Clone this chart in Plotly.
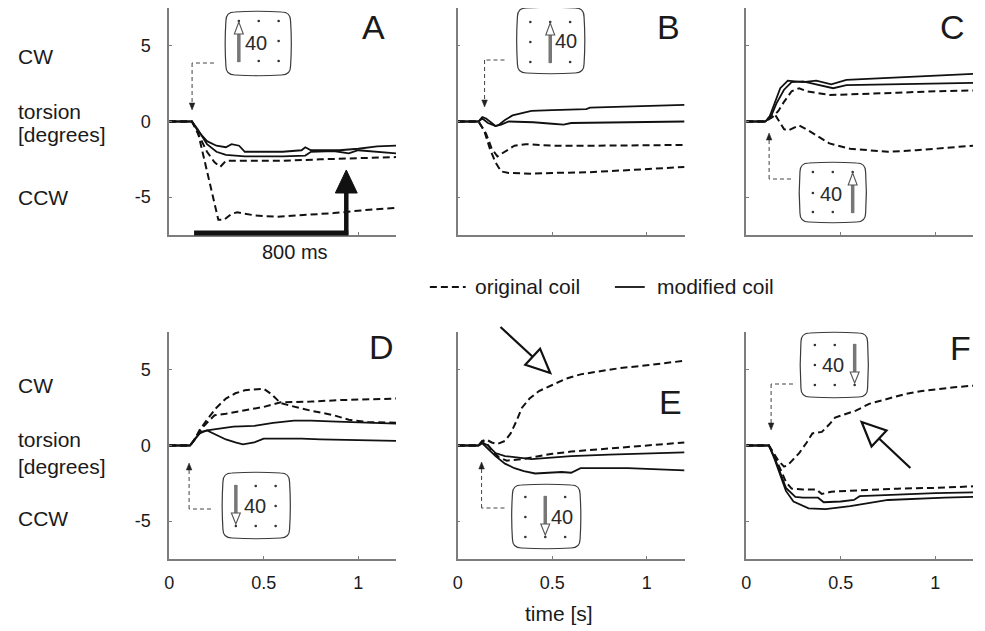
import plotly.graph_objects as go

# page offset caused by the browser's default body margin
OFF = 8
W, H = 985 - OFF, 631 - OFF

# ---------------- data: time [s] vs torsion [degrees] ----------------
A_orig1_t = [0, 0.12, 0.15, 0.18, 0.21, 0.24, 0.26, 0.29, 0.33, 0.36, 0.45, 0.57, 0.70, 0.87, 1.04, 1.2]
A_orig1_v = [0, 0, -0.6, -2.2, -3.9, -5.6, -6.5, -6.5, -6.1, -6.0, -6.2, -6.3, -6.2, -6.05, -5.85, -5.7]
A_orig2_t = [0, 0.12, 0.16, 0.20, 0.24, 0.27, 0.30, 0.40, 0.60, 0.80, 1.0, 1.2]
A_orig2_v = [0, 0, -1.0, -2.0, -2.7, -3.0, -2.6, -2.6, -2.6, -2.5, -2.4, -2.35]
A_mod1_t = [0, 0.12, 0.15, 0.20, 0.25, 0.30, 0.33, 0.37, 0.40, 0.60, 0.70, 0.72, 0.75, 0.90, 1.0, 1.1, 1.2]
A_mod1_v = [0, 0, -0.6, -1.3, -1.6, -1.7, -1.5, -1.6, -2.0, -2.0, -1.9, -1.7, -1.9, -1.9, -1.8, -1.65, -1.6]
A_mod2_t = [0, 0.12, 0.15, 0.20, 0.25, 0.30, 0.40, 0.60, 0.72, 0.75, 0.87, 0.95, 1.0, 1.1, 1.2]
A_mod2_v = [0, 0, -0.5, -1.5, -2.0, -2.2, -2.3, -2.3, -2.25, -2.0, -1.95, -2.1, -1.9, -2.0, -2.1]

B_orig1_t = [0, 0.11, 0.15, 0.18, 0.21, 0.25, 0.30, 0.36, 0.50, 0.70, 0.90, 1.2]
B_orig1_v = [0, 0, -0.8, -1.8, -2.3, -2.0, -1.6, -1.5, -1.6, -1.6, -1.6, -1.55]
B_orig2_t = [0, 0.11, 0.14, 0.17, 0.20, 0.23, 0.27, 0.39, 0.50, 0.70, 0.92, 1.05, 1.2]
B_orig2_v = [0, 0, -0.6, -1.8, -2.7, -3.3, -3.4, -3.45, -3.4, -3.35, -3.2, -3.1, -3.0]
B_mod1_t = [0, 0.11, 0.13, 0.15, 0.18, 0.20, 0.22, 0.25, 0.29, 0.39, 0.50, 0.60, 0.68, 0.70, 0.90, 1.08, 1.2]
B_mod1_v = [0, 0, 0.3, 0.2, -0.1, -0.3, -0.2, 0.1, 0.4, 0.7, 0.75, 0.8, 0.82, 0.92, 1.0, 1.1, 1.1]
B_mod2_t = [0, 0.11, 0.13, 0.16, 0.20, 0.23, 0.27, 0.40, 0.50, 0.56, 0.60, 0.80, 1.0, 1.2]
B_mod2_v = [0, 0, 0.2, -0.1, -0.3, -0.2, 0.0, -0.05, -0.15, -0.2, -0.1, -0.05, 0.0, 0.0]

C_orig1_t = [0, 0.10, 0.14, 0.17, 0.20, 0.24, 0.28, 0.32, 0.44, 0.60, 0.80, 1.0, 1.2]
C_orig1_v = [0, 0, 0.3, 0.7, 1.3, 2.0, 2.2, 2.0, 1.75, 1.8, 1.9, 2.0, 2.05]
C_orig2_t = [0, 0.10, 0.13, 0.15, 0.17, 0.20, 0.22, 0.28, 0.33, 0.44, 0.55, 0.75, 0.90, 1.05, 1.2]
C_orig2_v = [0, 0, 0.4, 0.5, 0.1, -0.5, -0.6, -0.26, -0.6, -1.45, -1.8, -2.0, -1.9, -1.75, -1.6]
C_mod1_t = [0, 0.10, 0.12, 0.15, 0.18, 0.22, 0.30, 0.37, 0.45, 0.53, 0.70, 0.90, 1.2]
C_mod1_v = [0, 0, 0.2, 1.2, 2.2, 2.7, 2.6, 2.7, 2.45, 2.75, 2.85, 2.95, 3.15]
C_mod2_t = [0, 0.10, 0.13, 0.16, 0.20, 0.24, 0.30, 0.36, 0.46, 0.53, 0.70, 0.90, 1.2]
C_mod2_v = [0, 0, 0.3, 1.2, 2.1, 2.6, 2.65, 2.5, 2.2, 2.4, 2.45, 2.5, 2.55]

D_orig1_t = [0, 0.11, 0.13, 0.16, 0.20, 0.25, 0.30, 0.35, 0.40, 0.45, 0.50, 0.54, 0.59, 0.65, 0.75, 0.87, 0.95, 1.05, 1.2]
D_orig1_v = [0, 0, 0.3, 1.0, 1.7, 2.5, 3.1, 3.45, 3.65, 3.7, 3.75, 3.4, 2.8, 2.6, 2.3, 2.0, 1.7, 1.55, 1.5]
D_orig2_t = [0, 0.11, 0.14, 0.17, 0.20, 0.24, 0.30, 0.40, 0.50, 0.59, 0.75, 0.90, 1.05, 1.2]
D_orig2_v = [0, 0, 0.5, 1.1, 1.5, 2.0, 2.1, 2.3, 2.55, 2.85, 2.9, 3.0, 3.05, 3.1]
D_mod1_t = [0, 0.11, 0.13, 0.16, 0.20, 0.25, 0.34, 0.45, 0.55, 0.66, 0.75, 0.85, 1.0, 1.2]
D_mod1_v = [0, 0, 0.3, 0.8, 1.0, 1.1, 1.25, 1.3, 1.5, 1.65, 1.65, 1.6, 1.55, 1.45]
D_mod2_t = [0, 0.11, 0.14, 0.17, 0.20, 0.25, 0.30, 0.35, 0.39, 0.45, 0.50, 0.60, 0.70, 0.80, 1.0, 1.2]
D_mod2_v = [0, 0, 0.5, 0.9, 1.0, 0.7, 0.4, 0.2, 0.07, 0.2, 0.45, 0.45, 0.45, 0.4, 0.35, 0.3]

E_orig1_t = [0, 0.11, 0.13, 0.15, 0.18, 0.21, 0.25, 0.28, 0.31, 0.34, 0.38, 0.43, 0.50, 0.57, 0.65, 0.75, 0.85, 1.0, 1.1, 1.2]
E_orig1_v = [0, 0, 0.3, 0.4, 0.2, 0.1, 0.3, 0.8, 1.6, 2.5, 3.1, 3.6, 4.0, 4.4, 4.7, 4.9, 5.1, 5.3, 5.45, 5.6]
E_orig2_t = [0, 0.11, 0.13, 0.15, 0.18, 0.22, 0.26, 0.34, 0.50, 0.60, 0.70, 0.80, 0.90, 1.0, 1.1, 1.2]
E_orig2_v = [0, 0, 0.3, 0.2, -0.3, -0.8, -1.0, -0.9, -0.55, -0.4, -0.3, -0.2, -0.1, 0.0, 0.1, 0.2]
E_mod1_t = [0, 0.11, 0.13, 0.16, 0.20, 0.25, 0.39, 0.50, 0.60, 0.80, 1.0, 1.2]
E_mod1_v = [0, 0, 0.2, 0.0, -0.5, -0.7, -0.9, -0.8, -0.7, -0.6, -0.5, -0.45]
E_mod2_t = [0, 0.11, 0.13, 0.16, 0.20, 0.25, 0.30, 0.35, 0.41, 0.55, 0.60, 0.65, 0.80, 0.90, 1.0, 1.1, 1.2]
E_mod2_v = [0, 0, 0.15, -0.2, -0.7, -1.2, -1.5, -1.7, -1.85, -1.75, -1.8, -1.5, -1.5, -1.5, -1.55, -1.6, -1.65]

F_orig1_t = [0, 0.12, 0.14, 0.17, 0.20, 0.22, 0.25, 0.28, 0.32, 0.35, 0.40, 0.44, 0.47, 0.58, 0.65, 0.75, 0.84, 0.93, 1.02, 1.1, 1.2]
F_orig1_v = [0, 0, -0.4, -1.0, -1.4, -1.3, -0.9, -0.5, 0.2, 0.8, 0.9, 1.4, 1.85, 2.3, 2.75, 3.1, 3.4, 3.6, 3.75, 3.85, 3.95]
F_orig2_t = [0, 0.12, 0.15, 0.18, 0.21, 0.24, 0.30, 0.37, 0.40, 0.45, 0.60, 0.80, 1.0, 1.2]
F_orig2_v = [0, 0, -0.7, -1.6, -2.4, -2.85, -2.9, -2.9, -3.2, -3.05, -2.95, -2.85, -2.8, -2.7]
F_mod1_t = [0, 0.12, 0.15, 0.18, 0.21, 0.26, 0.30, 0.38, 0.41, 0.50, 0.57, 0.60, 0.80, 1.0, 1.2]
F_mod1_v = [0, 0, -0.8, -1.8, -2.8, -3.4, -3.45, -3.45, -3.75, -3.7, -3.6, -3.35, -3.25, -3.15, -3.1]
F_mod2_t = [0, 0.12, 0.15, 0.18, 0.21, 0.25, 0.33, 0.42, 0.55, 0.75, 0.90, 1.05, 1.2]
F_mod2_v = [0, 0, -0.9, -2.0, -3.0, -3.7, -4.15, -4.2, -4.0, -3.6, -3.5, -3.45, -3.4]

panel_labels = ["A", "B", "C", "D", "E", "F"]
x_tickvals = [0, 0.5, 1]
x_ticktext = ["0", "0.5", "1"]
y_tickvals = [-5, 0, 5]
y_ticktext = ["-5", "0", "5"]
series_names = ["original coil", "modified coil"]

panel_series = {
    "A": [(A_orig1_t, A_orig1_v, 0), (A_orig2_t, A_orig2_v, 0), (A_mod1_t, A_mod1_v, 1), (A_mod2_t, A_mod2_v, 1)],
    "B": [(B_orig1_t, B_orig1_v, 0), (B_orig2_t, B_orig2_v, 0), (B_mod1_t, B_mod1_v, 1), (B_mod2_t, B_mod2_v, 1)],
    "C": [(C_orig1_t, C_orig1_v, 0), (C_orig2_t, C_orig2_v, 0), (C_mod1_t, C_mod1_v, 1), (C_mod2_t, C_mod2_v, 1)],
    "D": [(D_orig1_t, D_orig1_v, 0), (D_orig2_t, D_orig2_v, 0), (D_mod1_t, D_mod1_v, 1), (D_mod2_t, D_mod2_v, 1)],
    "E": [(E_orig1_t, E_orig1_v, 0), (E_orig2_t, E_orig2_v, 0), (E_mod1_t, E_mod1_v, 1), (E_mod2_t, E_mod2_v, 1)],
    "F": [(F_orig1_t, F_orig1_v, 0), (F_orig2_t, F_orig2_v, 0), (F_mod1_t, F_mod1_v, 1), (F_mod2_t, F_mod2_v, 1)],
}

# ---------------- layout geometry (screen pixels) ----------------
COL_PX = [(165, 393), (455, 683), (745, 973)]
ROW_PX = [(8, 235), (332, 559)]
FONT = "Liberation Sans, Arial, sans-serif"
AXIS_COLOR = "#7d7d7d"
INK = "#111111"


def px(x):
    return (x - OFF) / W


def py(y):
    return 1 - (y - OFF) / H


fig = go.Figure()
layout = dict(
    width=W, height=H, autosize=False,
    margin=dict(l=0, r=0, t=0, b=0),
    paper_bgcolor="white", plot_bgcolor="white",
    showlegend=False,
    font=dict(family=FONT, color="#1a1a1a"),
)

for i, lab in enumerate(panel_labels):
    n = i + 1
    r, c = divmod(i, 3)
    xs = "x" if n == 1 else f"x{n}"
    ys = "y" if n == 1 else f"y{n}"
    for t, v, kind in panel_series[lab]:
        fig.add_trace(go.Scatter(
            x=t, y=v, mode="lines", name=series_names[kind],
            xaxis=xs, yaxis=ys, showlegend=False,
            line=dict(color=INK, width=2.0 if kind == 0 else 1.8,
                      dash="7px,4px" if kind == 0 else "solid"),
            hoverinfo="skip",
        ))
    x0, x1 = COL_PX[c]
    y0, y1 = ROW_PX[r]
    layout["xaxis" if n == 1 else f"xaxis{n}"] = dict(
        domain=[px(x0), min(px(x1), 1)], range=[0, 1.2], anchor=ys,
        showline=True, linecolor=AXIS_COLOR, linewidth=1.5,
        showgrid=False, zeroline=False, ticks="inside", ticklen=3,
        tickcolor=AXIS_COLOR, tickwidth=1,
        tickvals=x_tickvals, ticktext=x_ticktext,
        showticklabels=(r == 1), tickfont=dict(size=18, family=FONT, color="#1a1a1a"),
        ticklabelstandoff=7,
    )
    layout["yaxis" if n == 1 else f"yaxis{n}"] = dict(
        domain=[py(y1), min(py(y0), 1)], range=[-7.5, 7.5], anchor=xs,
        showline=True, linecolor=AXIS_COLOR, linewidth=1.5,
        showgrid=False, zeroline=False, ticks="inside", ticklen=3,
        tickcolor=AXIS_COLOR, tickwidth=1,
        tickvals=y_tickvals, ticktext=y_ticktext,
        showticklabels=(c == 0), tickfont=dict(size=18, family=FONT, color="#1a1a1a"),
        ticklabelstandoff=13,
    )

shapes = []
annotations = []


def seg(x0, y0, x1, y1, color, width, dash=None):
    ln = dict(color=color, width=width)
    if dash:
        ln["dash"] = dash
    shapes.append(dict(type="line", xref="paper", yref="paper",
                       x0=px(x0), y0=py(y0), x1=px(x1), y1=py(y1), line=ln))


def poly(pts, fill, color, width):
    path = "M " + " L ".join(f"{px(x):.5f},{py(y):.5f}" for x, y in pts) + " Z"
    shapes.append(dict(type="path", xref="paper", yref="paper", path=path,
                       fillcolor=fill, line=dict(color=color, width=width)))


def dot(x, y, rr=1.3):
    shapes.append(dict(type="circle", xref="paper", yref="paper",
                       x0=px(x - rr), x1=px(x + rr), y0=py(y + rr), y1=py(y - rr),
                       fillcolor="#333", line=dict(width=0)))


def rrect(x0, y0, x1, y1, r):
    def P(x, y):
        return f"{px(x):.5f},{py(y):.5f}"
    mx, my = (x0 + x1) / 2, (y0 + y1) / 2
    b = 1.5
    path = (f"M {P(x0 + r, y0)} Q {P(mx, y0 - b)} {P(x1 - r, y0)} Q {P(x1, y0)} {P(x1, y0 + r)} "
            f"Q {P(x1 + b, my)} {P(x1, y1 - r)} Q {P(x1, y1)} {P(x1 - r, y1)} "
            f"Q {P(mx, y1 + b)} {P(x0 + r, y1)} Q {P(x0, y1)} {P(x0, y1 - r)} "
            f"Q {P(x0 - b, my)} {P(x0, y0 + r)} Q {P(x0, y0)} {P(x0 + r, y0)} Z")
    shapes.append(dict(type="path", xref="paper", yref="paper", path=path,
                       fillcolor="white", line=dict(color="#3a3a3a", width=1.2)))


def text(x, y, s, size, xanchor="center", color="#1a1a1a"):
    annotations.append(dict(xref="paper", yref="paper", x=px(x), y=py(y), text=s,
                            showarrow=False, xanchor=xanchor, yanchor="middle",
                            font=dict(size=size, family=FONT, color=color)))


# inset stimulus pictograms: box, dot grid, arrow column, direction, text x/y, connector
INSETS = [
    dict(box=(222, 12, 287, 75), cols=(235, 255, 275), rows=(21, 41, 61), acol=0, up=True,
         tx=252, ty=43, skip=(1, 1), corner=188, hy=63, hx=210, tip=110),
    dict(box=(515, 8, 582, 73), cols=(528, 548, 568), rows=(22, 42, 62), acol=1, up=True,
         tx=564, ty=41, skip=(2, 1), corner=482, hy=60, hx=502, tip=107),
    dict(box=(799, 163, 865, 222), cols=(812, 832, 852), rows=(172, 193, 212), acol=2, up=True,
         tx=830, ty=194, skip=(1, 1), corner=768, hy=179, hx=790, tip=133),
    dict(box=(219, 473, 286, 538), cols=(232, 252, 272), rows=(486, 506, 526), acol=0, up=False,
         tx=251, ty=506, skip=(1, 1), corner=185, hy=509, hx=207, tip=463),
    dict(box=(510, 485, 578, 548), cols=(523, 543, 563), rows=(497, 517, 537), acol=1, up=False,
         tx=560, ty=517, skip=(2, 1), corner=479, hy=508, hx=502, tip=462),
    dict(box=(800, 333, 867, 397), cols=(814, 834, 854), rows=(345, 365, 385), acol=2, up=False,
         tx=832, ty=365, skip=(1, 1), corner=770, hy=384, hx=792, tip=430),
]

for ins in INSETS:
    bx0, by0, bx1, by1 = ins["box"]
    # connector (dashed) from the box to the stimulus onset
    seg(ins["hx"], ins["hy"], ins["corner"], ins["hy"], "#444", 1, "4px,3px")
    vdir = 1 if ins["tip"] > ins["hy"] else -1
    seg(ins["corner"], ins["hy"], ins["corner"], ins["tip"] - vdir * 6, "#444", 1, "4px,3px")
    poly([(ins["corner"] - 2.8, ins["tip"] - vdir * 7), (ins["corner"] + 2.8, ins["tip"] - vdir * 7),
          (ins["corner"], ins["tip"])], "#222", "#222", 0.5)
    rrect(bx0, by0, bx1, by1, 9)
    for ci, cx in enumerate(ins["cols"]):
        for ri, ry in enumerate(ins["rows"]):
            if (ci, ri) == ins["skip"]:
                continue
            dot(cx, ry)
    ax = ins["cols"][ins["acol"]]
    r0, r2 = ins["rows"][0], ins["rows"][2]
    if ins["up"]:
        tipy, basey, tail = r0 + 1, r0 + 13, r2 + 1
    else:
        tipy, basey, tail = r2 - 2, r2 - 13, r0 - 1
    seg(ax, tail, ax, basey, "#777", 3.5)
    poly([(ax, tipy), (ax - 4.5, basey), (ax + 4.5, basey)], "white", "#555", 1.1)
    text(ins["tx"], ins["ty"], "40", 20, color="#2a2a2a")


# open-headed pointer arrows (panels E and F)
def open_arrow(tail, tip, hl, hw, width):
    dx, dy = tip[0] - tail[0], tip[1] - tail[1]
    L = (dx * dx + dy * dy) ** 0.5
    ux, uy = dx / L, dy / L
    bx, by = tip[0] - ux * hl, tip[1] - uy * hl
    pxv, pyv = -uy, ux
    seg(tail[0], tail[1], bx, by, INK, width)
    poly([tip, (bx + pxv * hw, by + pyv * hw), (bx - pxv * hw, by - pyv * hw)], "white", INK, width)


open_arrow((498, 327), (548, 373), 24, 11, 2.2)
open_arrow((910, 468), (861, 422), 24, 11, 2.2)

# 800 ms bar and thick arrow in panel A
seg(190, 233, 345, 233, INK, 5)
seg(343, 235, 343, 190, INK, 4.5)
poly([(343, 170), (332, 193), (354, 193)], INK, INK, 1)
text(291, 252, "800 ms", 20)

# row labels
for yc, yt, yd, ycc in [(57, 112, 134, 198), (385, 439, 466, 518)]:
    text(11, yc, "CW", 21, "left")
    text(11, yt, "torsion", 21, "left")
    text(11, yd, "[degrees]", 21, "left")
    text(11, ycc, "CCW", 21, "left")

# panel letters
for s, (x, y) in zip(panel_labels, [(370, 27), (667, 27), (952, 27), (378, 347), (669, 402), (960, 348)]):
    text(x, y, s, 34)

# legend
seg(427, 287, 463, 287, INK, 2, "7px,4px")
text(470, 286, series_names[0], 21, "left")
seg(613, 287, 643, 287, INK, 1.8)
text(653, 286, series_names[1], 21, "left")

# x axis title
text(557, 613, "time [s]", 21)

layout["shapes"] = shapes
layout["annotations"] = annotations
fig.update_layout(**layout)
fig.write_html("out.html")
